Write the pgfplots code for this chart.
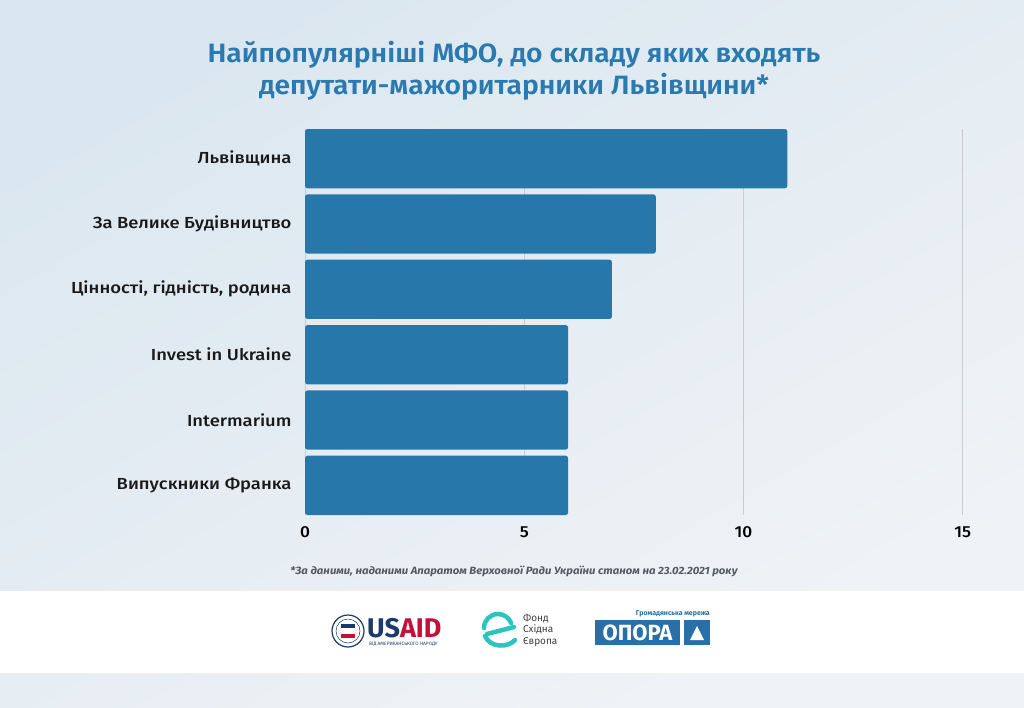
\documentclass[border=0pt]{standalone}
\usepackage{pgfplots}
\pgfplotsset{compat=1.18}
\usepackage{fontspec}
\setmainfont{Fira Sans}
\newfontfamily\semib{Fira Sans}[UprightFont={* Medium}, FakeStretch=1.15]
\newfontfamily\tickfont{Fira Sans}[UprightFont={* Medium}, FakeStretch=1.08]
\newfontfamily\titlefont{Fira Sans}[UprightFont={* SemiBold}, FakeStretch=1.065]
\newfontfamily\footfont{Fira Sans}[FakeStretch=1.08]
\definecolor{barblue}{RGB}{39,119,170}
\definecolor{titleblue}{RGB}{42,122,176}
\definecolor{gridgray}{RGB}{200,204,208}
\definecolor{usblue}{RGB}{27,58,107}
\definecolor{usred}{RGB}{194,17,58}
\definecolor{tealc}{RGB}{44,196,192}
\definecolor{opora}{RGB}{42,111,168}
\definecolor{bgA}{RGB}{219,231,240}
\definecolor{bgB}{RGB}{240,243,246}
\definecolor{footc}{RGB}{85,90,96}
\begin{document}
\begin{tikzpicture}
\begin{scope}[x=1pt,y=1pt]
\shade[top color=bgA, bottom color=bgB, shading angle=30] (0,0) rectangle (1024,-708);
\fill[white] (0,-590.7) rectangle (1024,-673.3);
\node[anchor=base, inner sep=0, font=\titlefont\fontsize{26.5}{30}\selectfont, text=titleblue] at (514,-62.5) {Найпопулярніші МФО, до складу яких входять};
\node[anchor=base, inner sep=0, font=\titlefont\fontsize{26.5}{30}\selectfont, text=titleblue] at (514,-94.5) {депутати-мажоритарники Львівщини*};
\end{scope}
\begin{axis}[
  at={(305pt,-515pt)}, anchor=south west, scale only axis,
  width=657.8pt, height=386pt,
  xmin=0, xmax=15, ymin=-0.4535, ymax=5.4535, y dir=reverse,
  xbar, bar width=0.907,
  axis line style={draw=none}, major tick length=0pt,
  xmajorgrids, grid style={line width=1pt, gridgray},
  xtick={0,5,10,15},
  ytick={0,1,2,3,4,5},
  yticklabels={Львівщина\hspace{4pt}, За Велике Будівництво, {Цінності, гідність, родина}, Invest in Ukraine, Intermarium, Випускники Франка},
  yticklabel style={font=\semib\fontsize{16}{19}\selectfont, text=black!90, xshift=-10pt},
  xticklabel style={font=\tickfont\fontsize{16}{19}\selectfont, text=black, yshift=-8pt},
  /pgf/number format/assume math mode=true,
]
\addplot[fill=barblue, draw=none, rounded corners=2.5pt] coordinates {(11,0) (8,1) (7,2) (6,3) (6,4) (6,5)};
\end{axis}
\begin{scope}[x=1pt,y=1pt]
\node[font=\footfont\bfseries\itshape\fontsize{10.5}{12}\selectfont, text=footc] at (514,-571) {*За даними, наданими Апаратом Верховної Ради України станом на 23.02.2021 року};
% logos
\draw[usblue, line width=1.2pt, fill=white] (348,-631) circle (16);
\draw[usblue, line width=0.5pt] (348,-631) circle (12);
\fill[usblue] (341,-624) rectangle (355,-628);
\fill[usred] (341,-634) rectangle (355,-638);
\node[anchor=base west, inner sep=0, font=\bfseries\fontsize{27}{27}\selectfont] at (367,-637) {\textcolor{usblue}{US}\textcolor{usred}{AID}};
\node[anchor=west, inner sep=0, font=\fontsize{4.8}{5}\selectfont, text=usblue] at (369,-644.5) {ВІД АМЕРИКАНСЬКОГО НАРОДУ};
\draw[tealc, line width=4.5pt, line cap=round] (484,-628) arc (180:20:14);
\draw[tealc, line width=4.5pt, line cap=round] (487,-634) -- (514,-627);
\draw[tealc, line width=4.5pt, line cap=round] (485,-636) .. controls (490,-648) and (508,-648) .. (515,-640);
\node[anchor=west, align=left, inner sep=0, font=\fontsize{10}{11.5}\selectfont, text=black!75] at (523,-630) {Фонд\\Східна\\Європа};
\fill[opora] (595,-620) rectangle (680,-645);
\fill[opora] (684,-620) rectangle (710,-645);
\node[font=\bfseries\fontsize{22}{22}\selectfont, text=white] at (637.5,-632.5) {ОПОРА};
\fill[white] (690,-640) -- (704,-640) -- (697,-626) -- cycle;
\node[anchor=east, inner sep=0, font=\bfseries\fontsize{7}{8}\selectfont, text=opora] at (710,-614) {Громадянська мережа};
\end{scope}
\pgfresetboundingbox
\useasboundingbox (0,0) rectangle (1024pt,-708pt);
\end{tikzpicture}
\end{document}
